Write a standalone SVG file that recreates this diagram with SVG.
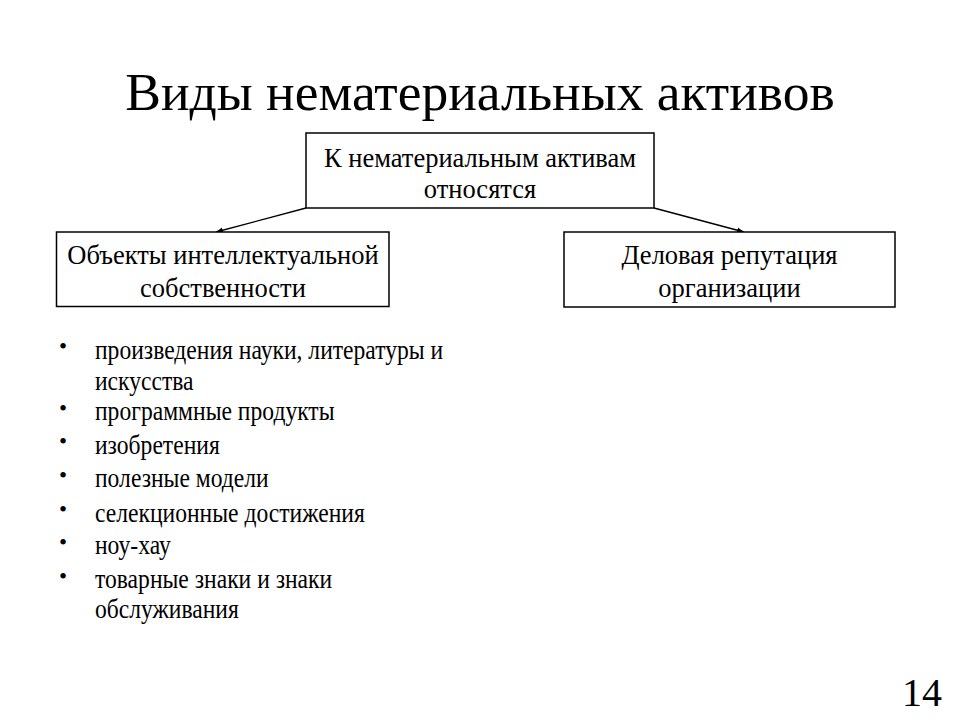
<svg xmlns="http://www.w3.org/2000/svg" width="960" height="720" viewBox="0 0 960 720">
<style>
text{font-family:"Liberation Serif","Times New Roman",serif;fill:#000}
.box{fill:#fff;stroke:#000;stroke-width:1.5}
.bt{font-size:26.5px;text-anchor:middle}
.li{font-size:23.6px}
.bu{font-size:23px}
.conn{stroke:#000;stroke-width:1.3;fill:none;marker-end:url(#ah)}
</style>
<defs>
<marker id="ah" viewBox="0 0 10 10" refX="10" refY="5" markerWidth="7" markerHeight="7" orient="auto" markerUnits="userSpaceOnUse">
<path d="M0,1 L10,5 L0,9 z" fill="#000"/>
</marker>
</defs>
<rect width="960" height="720" fill="#fff"/>
<text id="title" x="480" y="110" font-size="53.5" text-anchor="middle">Виды нематериальных активов</text>
<g id="connectors">
<line class="conn" x1="306" y1="208" x2="216" y2="232"/>
<line class="conn" x1="654" y1="208" x2="744" y2="232"/>
</g>
<g id="top">
<rect class="box" x="306" y="133" width="348" height="75"/>
<text class="bt" x="480" y="167">К нематериальным активам</text>
<text class="bt" x="480" y="198">относятся</text>
</g>
<g id="left">
<rect class="box" x="56.5" y="232" width="332.5" height="74.5"/>
<text class="bt" x="223" y="264">Объекты интеллектуальной</text>
<text class="bt" x="223" y="297">собственности</text>
</g>
<g id="right">
<rect class="box" x="564" y="232" width="331" height="75"/>
<text class="bt" x="729.5" y="264">Деловая репутация</text>
<text class="bt" x="729.5" y="297">организации</text>
</g>
<g id="list">
<g class="bu">
<text x="59" y="354">•</text>
<text x="59" y="416">•</text>
<text x="59" y="449">•</text>
<text x="59" y="483">•</text>
<text x="59" y="517">•</text>
<text x="59" y="550">•</text>
<text x="59" y="584">•</text>
</g>
<g class="li" transform="scale(1,1.12)">
<text x="95" y="320.5">произведения науки, литературы и</text>
<text x="95" y="348.2">искусства</text>
<text x="95" y="375">программные продукты</text>
<text x="95" y="405.4">изобретения</text>
<text x="95" y="434.8">полезные модели</text>
<text x="95" y="466.1">селекционные достижения</text>
<text x="95" y="494.6">ноу-хау</text>
<text x="95" y="525">товарные знаки и знаки</text>
<text x="95" y="551.8">обслуживания</text>
</g>
</g>
<text id="page" x="942" y="706" font-size="40" text-anchor="end">14</text>
</svg>
